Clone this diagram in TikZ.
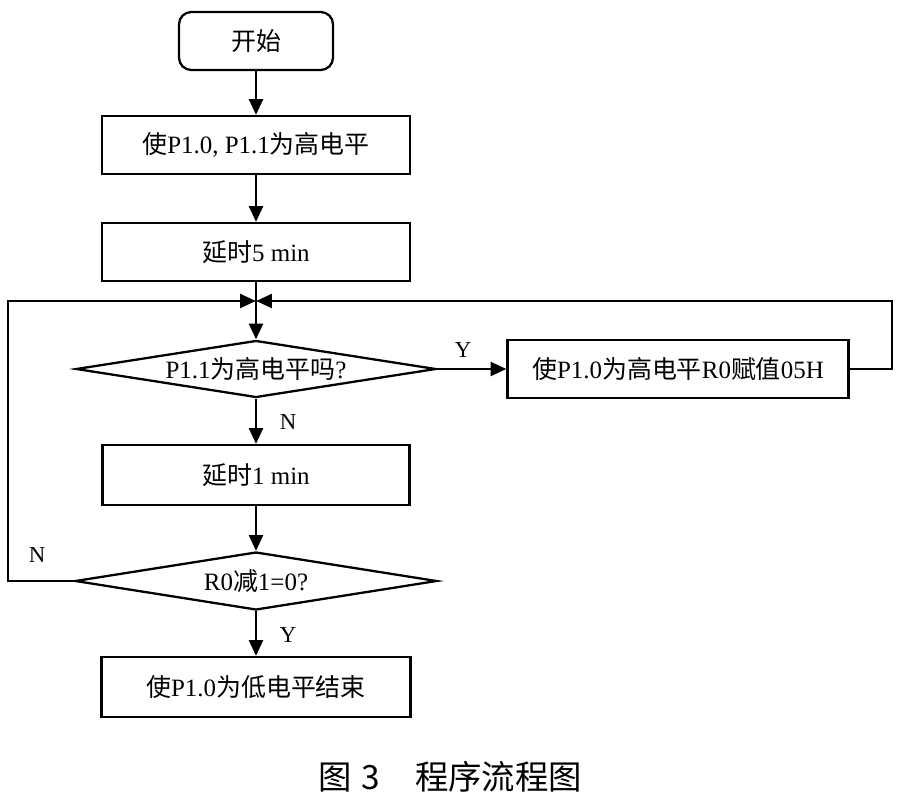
\documentclass[tikz,border=0pt]{standalone}
\usepackage{fontspec}
\setmainfont{Liberation Serif}
\newfontfamily\cjk{Noto Sans CJK SC}
\newcommand\zh[1]{{\cjk #1}}
\usetikzlibrary{arrows.meta,shapes.geometric}
\begin{document}
\begin{tikzpicture}[x=0.02cm,y=-0.02cm,
  line width=1.3pt,
  every node/.style={font=\fontsize{14.2pt}{16pt}\selectfont},
  procbox/.style={draw,rectangle,inner sep=0pt,minimum height=58*0.02cm},
  startbox/.style={draw,rectangle,rounded corners=7pt,inner sep=0pt,minimum width=154*0.02cm,minimum height=58*0.02cm},
  decision/.style={draw,diamond,inner sep=0pt,aspect=6,minimum width=360*0.02cm,minimum height=57*0.02cm},
  lbl/.style={font=\fontsize{13pt}{15pt}\selectfont},
  arr/.style={-{Triangle[length=9pt,width=8pt]}}
]
\useasboundingbox (0,0) rectangle (903,805);

\node[startbox] (start) at (256,41) {\zh{开始}};
\node[procbox,minimum width=308*0.02cm] (b1) at (256,145) {\zh{使}P1.0, P1.1\zh{为高电平}};
\node[procbox,minimum width=308*0.02cm] (b2) at (256,252) {\zh{延时}5 min};
\coordinate (j) at (256,301);
\node[decision] (d1) at (256,369) {P1.1\zh{为高电平吗}?};
\node[procbox,minimum width=341*0.02cm] (b5) at (678,369) {\zh{使}P1.0\zh{为高电平}R0\zh{赋值}05H};
\node[procbox,minimum width=307*0.02cm,minimum height=60*0.02cm] (b3) at (256,475) {\zh{延时}1 min};
\node[decision,minimum width=362*0.02cm,minimum height=58*0.02cm] (d2) at (256,581) {R0\zh{减}1=0?};
\node[procbox,minimum width=309*0.02cm,minimum height=60*0.02cm] (b4) at (256,687) {\zh{使}P1.0\zh{为低电平结束}};

\coordinate (lc) at (8,301);
\coordinate (rc) at (892,301);

\draw[arr] (start) -- (b1);
\draw[arr] (b1) -- (b2);
\draw[arr] (b2) -- (d1);
\draw[arr] (d1.east) -- (d1.east -| b5.west);
\draw[arr] (d1) -- (b3);
\draw[arr] (b3) -- (d2);
\draw[arr] (d2) -- (b4);
\draw[arr] (d2.west) -| (lc) -- ([xshift=-0.1pt]j);
\draw[arr] (b5.east) -| (rc) -- ([xshift=0.1pt]j);

\node[lbl] (ly1) at (463,350) {Y};
\node[lbl] (ln1) at (288,422) {N};
\node[lbl] (ln2) at (37,555) {N};
\node[lbl] (ly2) at (288,635) {Y};

\node[font=\fontsize{19pt}{22pt}\selectfont\cjk] (cap) at (450,777) {图\hspace{5.7pt}3\hspace{20pt}程序流程图};
\end{tikzpicture}
\end{document}
